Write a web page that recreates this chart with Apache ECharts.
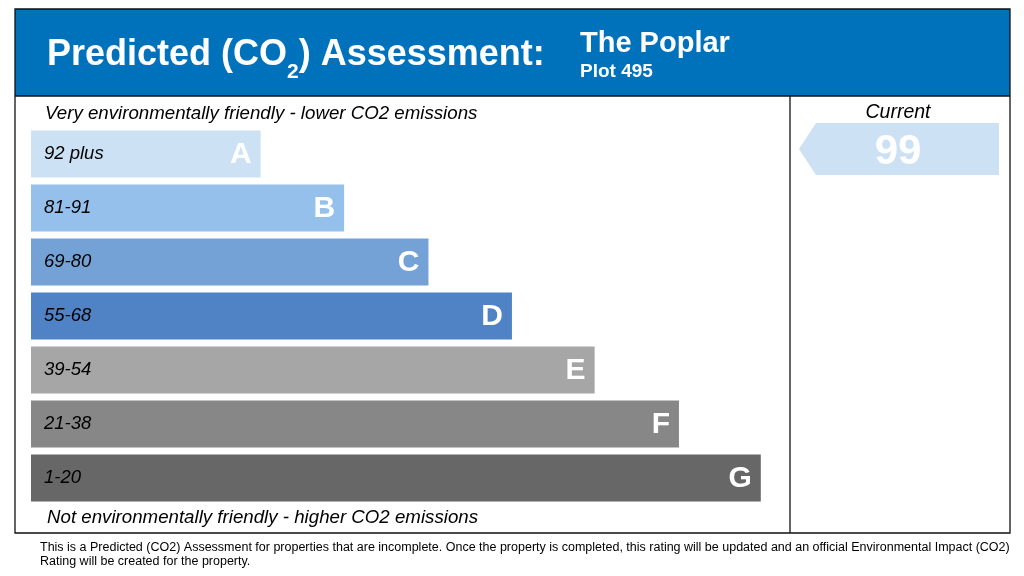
<!DOCTYPE html>
<html><head><meta charset="utf-8">
<script src="https://cdn.jsdelivr.net/npm/echarts@6/dist/echarts.min.js"></script>
<style>html,body{margin:0;padding:0;background:#fff}#c{width:1024px;height:576px}</style>
</head><body><div id="c"></div>
<script>
// ---- data ----
const bands = ['A','B','C','D','E','F','G'];
const bandRanges = ['92 plus','81-91','69-80','55-68','39-54','21-38','1-20'];
const bandMins = [92,81,69,55,39,21,1];
const barLength = [2.75,3.75,4.76,5.76,6.75,7.76,8.74];
const bandColors = ['#cde1f5','#95c0ec','#74a2d6','#4f83c5','#a6a6a6','#878787','#676767'];
const currentRating = 99;
const titleMain = 'Predicted (CO';
const titleSub = '2';
const titleEnd = ') Assessment:';
const propName = 'The Poplar';
const plotName = 'Plot 495';
const topNote = 'Very environmentally friendly - lower CO2 emissions';
const bottomNote = 'Not environmentally friendly - higher CO2 emissions';
const footer1 = 'This is a Predicted (CO2) Assessment for properties that are incomplete. Once the property is completed, this rating will be updated and an official Environmental Impact (CO2)';
const footer2 = 'Rating will be created for the property.';

const currentBandIdx = bandMins.findIndex(m => currentRating >= m);
const font = 'Liberation Sans, Arial, sans-serif';

const chart = echarts.init(document.getElementById('c'), null, {renderer:'canvas'});
chart.setOption({
  animation:false,
  backgroundColor:'#fff',
  grid:[
    {left:31, top:127, width:835, height:378},
    {left:799, top:122, width:200, height:378}
  ],
  xAxis:[
    {gridIndex:0, type:'value', min:0, max:10, show:false},
    {gridIndex:1, type:'value', min:0, max:1, show:false}
  ],
  yAxis:[
    {gridIndex:0, type:'category', data:bands, inverse:true, show:false},
    {gridIndex:1, type:'category', data:bands, inverse:true, show:false}
  ],
  graphic:[
    {type:'rect', z:-1, shape:{x:15,y:9,width:995,height:87}, style:{fill:'#0072bc'}},
    {type:'rect', z:10, shape:{x:15,y:9,width:995,height:524}, style:{fill:'none', stroke:'#111', lineWidth:1.3}},
    {type:'line', z:10, shape:{x1:15,y1:96,x2:1010,y2:96}, style:{stroke:'#111', lineWidth:1.3}},
    {type:'line', z:10, shape:{x1:790,y1:96,x2:790,y2:533}, style:{stroke:'#111', lineWidth:1.3}},
    {type:'text', left:47, top:37, style:{
      text:'{m|'+titleMain+'}{s|'+titleSub+'}{m|'+titleEnd+'}',
      rich:{m:{fill:'#fff', font:'bold 36px '+font, verticalAlign:'bottom', lineHeight:40},
            s:{fill:'#fff', font:'bold 21px '+font, padding:[0,0,-10,0], verticalAlign:'bottom', lineHeight:40}}
    }},
    {type:'text', left:580, top:29, style:{text:propName, fill:'#fff', font:'bold 29px '+font}},
    {type:'text', left:580, top:62, style:{text:plotName, fill:'#fff', font:'bold 19px '+font}},
    {type:'text', left:45, top:104, style:{text:topNote, fill:'#000', font:'italic 18.7px '+font}},
    {type:'text', left:47, top:508, style:{text:bottomNote, fill:'#000', font:'italic 18.7px '+font}},
    {type:'text', x:898, y:113, style:{text:'Current', fill:'#000', font:'italic 19.5px '+font, textAlign:'center', textVerticalAlign:'middle'}},
    {type:'text', left:40, top:541, style:{text:footer1+'\n'+footer2, fill:'#000', font:'12.5px '+font, lineHeight:14}}
  ],
  series:[
    {type:'bar', xAxisIndex:0, yAxisIndex:0, barWidth:47,
     data:barLength.map((v,i)=>({value:v, itemStyle:{color:bandColors[i]}})),
     label:{show:true, position:'insideLeft', distance:13, formatter:p=>bandRanges[p.dataIndex],
            color:'#000', fontStyle:'italic', fontSize:18.5, fontFamily:font}},
    {type:'bar', xAxisIndex:0, yAxisIndex:0, barWidth:47, barGap:'-100%',
     data:barLength.map(v=>({value:v, itemStyle:{color:'rgba(0,0,0,0)'}})),
     label:{show:true, position:'insideRight', distance:9, offset:[0,1], formatter:p=>bands[p.dataIndex],
            color:'#fff', fontWeight:'bold', fontSize:30, fontFamily:font}},
    {type:'custom', xAxisIndex:1, yAxisIndex:1,
     data:[[1, bands[currentBandIdx]]],
     renderItem:(params, api)=>{
       const p0 = api.coord([0, api.value(1)]);
       const p1 = api.coord([1, api.value(1)]);
       const h = api.size([0,1])[1]*0.96;
       const cy = p0[1], x0 = p0[0], x1 = p1[0];
       return {type:'group', children:[
         {type:'polygon', shape:{points:[[x0,cy],[x0+17,cy-h/2],[x1,cy-h/2],[x1,cy+h/2],[x0+17,cy+h/2]]},
          style:{fill:bandColors[currentBandIdx]}},
         {type:'text', style:{text:String(currentRating), x:(x0+x1)/2-1, y:cy+3, textAlign:'center', textVerticalAlign:'middle',
          fill:'#fff', font:'bold 42px '+font}}
       ]};
     }}
  ]
});
</script></body></html>
